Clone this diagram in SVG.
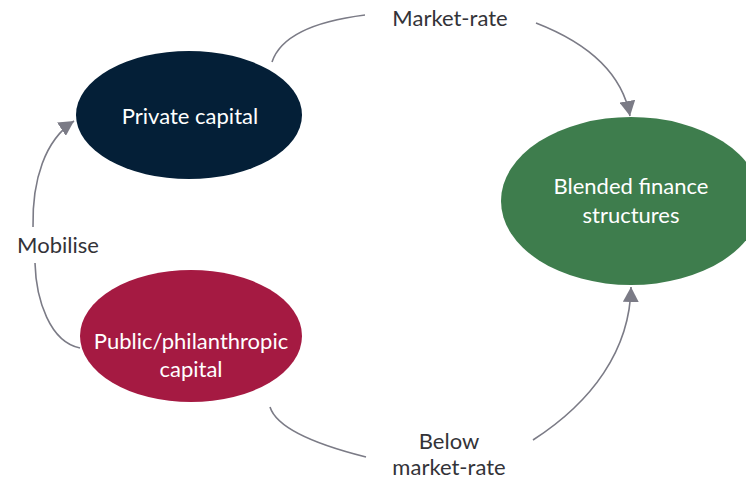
<svg xmlns="http://www.w3.org/2000/svg" width="746" height="480" viewBox="0 0 746 480">
<style>
.lbl{font-family:Lato,"Open Sans","Liberation Sans",sans-serif;font-size:22px;fill:#333338;text-anchor:middle}
.in{font-family:Lato,"Open Sans","Liberation Sans",sans-serif;font-size:22px;fill:#ffffff;text-anchor:middle}
.c{fill:none;stroke:#7b7b86;stroke-width:1.6}
</style>
<defs>
<marker id="ah" markerUnits="userSpaceOnUse" markerWidth="16" markerHeight="16" viewBox="0 0 16 16" refX="15" refY="8" orient="auto">
<path d="M0,0 L15,8 L0,16 Z" fill="#7b7b86"/>
</marker>
</defs>
<rect width="746" height="480" fill="#ffffff"/>
<g id="private">
<ellipse cx="189" cy="115" rx="113" ry="64" fill="#041f37"/>
<text class="in" x="190" y="124">Private capital</text>
</g>
<g id="public">
<ellipse cx="191" cy="336" rx="111" ry="66" fill="#a51a42"/>
<text class="in" x="191" y="349">Public/philanthropic</text>
<text class="in" x="191" y="377">capital</text>
</g>
<g id="blended">
<ellipse cx="631" cy="201" rx="130" ry="84" fill="#3e7d4d"/>
<text class="in" x="631" y="194">Blended finance</text>
<text class="in" x="631" y="223">structures</text>
</g>
<g id="connectors">
<path class="c" d="M272,62 C282,32 325,20 365,15"/>
<path class="c" d="M536,23 C585,42 622,72 630,116" marker-end="url(#ah)"/>
<path class="c" d="M80,348 C50,342 36,300 35,263"/>
<path class="c" d="M33,227 C32,180 45,140 74,121" marker-end="url(#ah)"/>
<path class="c" d="M270,407 C278,432 330,448 366,457"/>
<path class="c" d="M533,440 C592,402 630,350 631,287" marker-end="url(#ah)"/>
<text class="lbl" x="450" y="26">Market-rate</text>
<text class="lbl" x="58" y="253">Mobilise</text>
<text class="lbl" x="449" y="449">Below</text>
<text class="lbl" x="449" y="475">market-rate</text>
</g>
</svg>
